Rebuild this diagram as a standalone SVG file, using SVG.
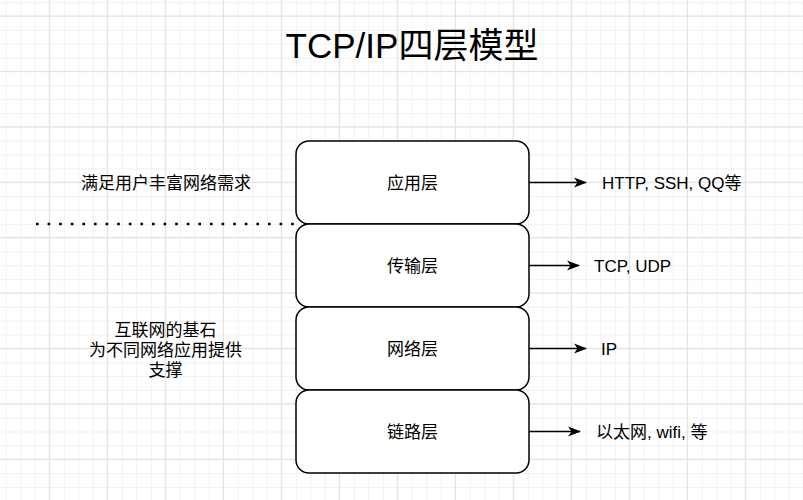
<svg xmlns="http://www.w3.org/2000/svg" width="803" height="500" viewBox="0 0 803 500">
<style>
  .box { fill: #ffffff; stroke: #000000; stroke-width: 1.5; }
  .t { font-family: "Liberation Sans", "Noto Sans CJK SC", sans-serif; fill: #000000; dominant-baseline: central; }
  .c { text-anchor: middle; }
  .lbl { font-size: 17px; }
  .edge { stroke: #000000; stroke-width: 1.5; fill: none; }
</style>
<defs>
  <pattern id="minor" patternUnits="userSpaceOnUse" x="5.8" y="2.15" width="14.5" height="13.85">
    <path d="M0,0.5 H14.5 M0.5,0 V13.85" stroke="#f1f1f1" stroke-width="1" fill="none"/>
  </pattern>
  <pattern id="major" patternUnits="userSpaceOnUse" x="48.8" y="15.5" width="58" height="55.4">
    <path d="M0,0.5 H58 M0.5,0 V55.4" stroke="#e0e0e0" stroke-width="1" fill="none"/>
  </pattern>
  <marker id="arrow" viewBox="0 0 13 11" refX="12" refY="5.5" markerWidth="13" markerHeight="11" orient="auto" markerUnits="userSpaceOnUse">
    <path d="M0,0.5 L13,5.5 L0,10.5 L3.5,5.5 Z" fill="#000000"/>
  </marker>
</defs>
<rect width="803" height="500" fill="#ffffff"/>
<rect width="803" height="500" fill="url(#minor)"/>
<rect width="803" height="500" fill="url(#major)"/>

<text id="title" class="t c" x="412" y="45" font-size="35">TCP/IP四层模型</text>

<g id="edges">
  <line class="edge" x1="529" y1="182.5" x2="586" y2="182.5" marker-end="url(#arrow)"/>
  <line class="edge" x1="529" y1="265.5" x2="579" y2="265.5" marker-end="url(#arrow)"/>
  <line class="edge" x1="529" y1="348.5" x2="586" y2="348.5" marker-end="url(#arrow)"/>
  <line class="edge" x1="529" y1="431.5" x2="580" y2="431.5" marker-end="url(#arrow)"/>
  <line x1="36" y1="224" x2="296" y2="224" stroke="#000000" stroke-width="2.6" stroke-dasharray="2.6 9"/>
</g>

<g id="app">
  <rect class="box" x="296" y="141" width="233" height="83" rx="13" ry="13"/>
  <text class="t c lbl" x="412.5" y="183">应用层</text>
</g>
<g id="transport">
  <rect class="box" x="296" y="224" width="233" height="83" rx="13" ry="13"/>
  <text class="t c lbl" x="412.5" y="266">传输层</text>
</g>
<g id="network">
  <rect class="box" x="296" y="307" width="233" height="83" rx="13" ry="13"/>
  <text class="t c lbl" x="412.5" y="349">网络层</text>
</g>
<g id="link">
  <rect class="box" x="296" y="390" width="233" height="83" rx="13" ry="13"/>
  <text class="t c lbl" x="412.5" y="432">链路层</text>
</g>

<g id="labels">
  <text class="t lbl" x="602" y="183">HTTP, SSH, QQ等</text>
  <text class="t lbl" x="594" y="266">TCP, UDP</text>
  <text class="t lbl" x="601" y="349">IP</text>
  <text class="t lbl" x="596" y="432">以太网, wifi, 等</text>
  <text class="t c lbl" x="166" y="183">满足用户丰富网络需求</text>
  <text class="t c lbl" x="165.5" y="330">互联网的基石</text>
  <text class="t c lbl" x="165.5" y="350">为不同网络应用提供</text>
  <text class="t c lbl" x="165.5" y="370">支撑</text>
</g>
</svg>
